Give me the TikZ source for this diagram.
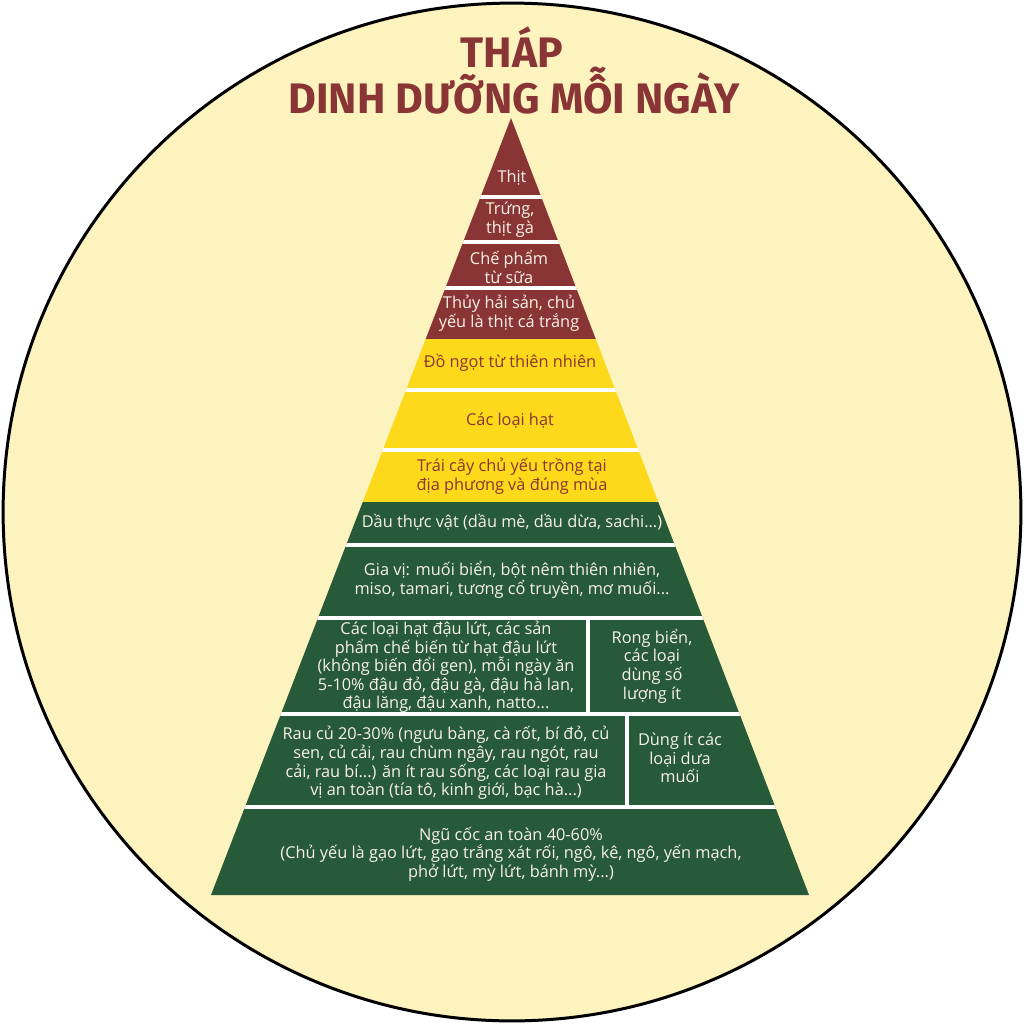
\documentclass[tikz,border=0pt]{standalone}
\usepackage{fontspec}
\setmainfont{Open Sans}
\newfontfamily\tuade{Fira Sans}
\usepackage{xcolor}
\definecolor{kem}{HTML}{FDF3BF}
\definecolor{nau}{HTML}{8A3535}
\definecolor{vang}{HTML}{FCD91A}
\definecolor{xanh}{HTML}{275A38}
\definecolor{chutrang}{HTML}{F7F2E4}

\tikzset{
  nhan/.style={align=center, font=\fontsize{9.3}{10.6}\selectfont, text=chutrang, inner sep=0pt},
  nhanvang/.style={nhan, text=nau},
  tieude/.style={font=\tuade\bfseries\fontsize{24.3}{28}\selectfont, text=nau, inner sep=0pt},
  vach/.style={white, line width=1.8pt},
}

\begin{document}
\begin{tikzpicture}[x=0.02cm,y=-0.02cm]
  \useasboundingbox (0,0) rectangle (1024,1024);
  \draw[fill=kem, line width=1.7pt] (512,512) circle[radius=10.18cm];

  % title
  \node[tieude] (title1) at (512,47) {THÁP};
  \node[tieude] (title2) at (514,91) {DINH DƯỠNG MỖI NGÀY};

  % pyramid
  \begin{scope}
    \clip (511,118) -- (809,895) -- (211,895) -- cycle;
    \fill[nau] (200,110) rectangle (830,339);
    \fill[vang] (200,339) rectangle (830,502);
    \fill[xanh] (200,502) rectangle (830,900);
    \foreach \y in {197,242,288,390,450,545,618,714,807}
      \draw[vach] (200,\y) -- (830,\y);
    \draw[vach] (588,618) -- (588,714);
    \draw[vach] (627,714) -- (627,807);
  \end{scope}

  % labels
  \node[nhan] (thit) at (512,178) {Thịt};
  \node[nhan] (trung) at (510,220) {Trứng,\\thịt gà};
  \node[nhan] (sua) at (509,267) {Chế phẩm\\từ sữa};
  \node[nhan] (haisan) at (509,313) {Thủy hải sản, chủ\\yếu là thịt cá trắng};
  \node[nhanvang] (dongot) at (510,363) {Đồ ngọt từ thiên nhiên};
  \node[nhanvang] (hat) at (510,421) {Các loại hạt};
  \node[nhanvang] (traicay) at (512,476) {Trái cây chủ yếu trồng tại\\địa phương và đúng mùa};
  \node[nhan] (dau) at (512,522) {Dầu thực vật (dầu mè, dầu dừa, sachi...)};
  \node[nhan] (giavi) at (512,580) {Gia vị: muối biển, bột nêm thiên nhiên,\\miso, tamari, tương cổ truyền, mơ muối...};
  \node[nhan] (daulut) at (446,667) {Các loại hạt đậu lứt, các sản\\phẩm chế biến từ hạt đậu lứt\\(không biến đổi gen), mỗi ngày ăn\\5-10\% đậu đỏ, đậu gà, đậu hà lan,\\đậu lăng, đậu xanh, natto...};
  \node[nhan] (rongbien) at (652,666) {Rong biển,\\các loại\\dùng số\\lượng ít};
  \node[nhan] (raucu) at (446,763) {Rau củ 20-30\% (ngưu bàng, cà rốt, bí đỏ, củ\\sen, củ cải, rau chùm ngây, rau ngót, rau\\cải, rau bí...) ăn ít rau sống, các loại rau gia\\vị an toàn (tía tô, kinh giới, bạc hà...)};
  \node[nhan] (duamuoi) at (680,758) {Dùng ít các\\loại dưa\\muối};
  \node[nhan] (ngucoc) at (511,854) {Ngũ cốc an toàn 40-60\%\\(Chủ yếu là gạo lứt, gạo trắng xát rối, ngô, kê, ngô, yến mạch,\\phở lứt, mỳ lứt, bánh mỳ...)};
\end{tikzpicture}
\end{document}
